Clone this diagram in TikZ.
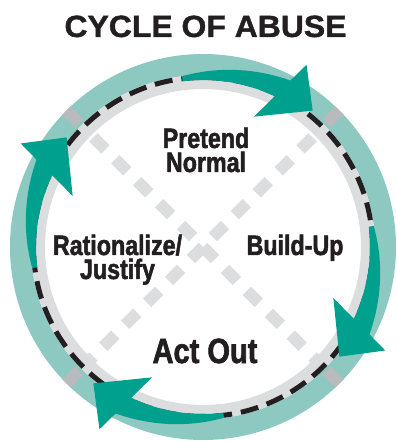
\documentclass[tikz,border=0pt]{standalone}
\usepackage{fontspec}
\setmainfont{Liberation Sans}
\newfontfamily\titlefont[FakeStretch=1.04, BoldFeatures={FakeBold=1.2}]{Liberation Sans}
\newfontfamily\labfont[FakeStretch=0.83, BoldFeatures={FakeBold=1.8}]{Liberation Sans}
\definecolor{lteal}{HTML}{8DC9C0}
\definecolor{dteal}{HTML}{00A08F}
\definecolor{lgray}{HTML}{DCDDDF}
\definecolor{mgray}{HTML}{B9BABD}
\definecolor{ink}{HTML}{231F20}
\tikzset{
  lab/.style={font=\labfont\bfseries\fontsize{28}{24}\selectfont, text=ink, inner sep=0pt, align=center, anchor=north},
  big/.style={font=\labfont\bfseries\fontsize{35}{35}\selectfont, text=ink, inner sep=0pt, anchor=base},
  ttl/.style={font=\titlefont\bfseries\fontsize{30.7}{30}\selectfont, text=ink, inner sep=0pt, anchor=base},
  diag/.style={lgray, line width=12pt, dash pattern=on 17pt off 14pt, dash phase=2pt},
  blkdash/.style={ink, line width=5pt, dash pattern=on 18pt off 9pt},
  arrowfill/.style={fill=dteal}
}
\begin{document}
\begin{tikzpicture}[x=1pt,y=1pt]
\useasboundingbox (-203,-194) rectangle (193,247);
\fill[white] (-203,-194) rectangle (193,247);
% rings
\fill[lteal, even odd rule] (0,0) circle[radius=193] (0,0) circle[radius=172];
\fill[lgray, even odd rule] (0,0) circle[radius=172] (0,0) circle[radius=158];
% diagonals
\draw[diag] (225:170) -- (45:170);
\draw[diag] (315:170) -- (135:170);
% darker squares on the teal band
\foreach \a in {45,135,225,315}
  \fill[mgray, rotate=\a] (175,-6) rectangle (193,6);
% black dashed circle
\draw[blkdash] (0,0) circle[radius=169.5];
% arrows
\foreach \k in {0,1,2,3}{
  \begin{scope}[rotate=-90*\k]
  \fill[arrowfill] (97:167) -- (97:172)
     -- plot[domain=97:62.3, samples=30] (\x:{172+(97-\x)*16/34.7})
     -- (60.4:209.6) -- (51.2:175) -- (68.6:140) -- (64.6:167)
     arc[start angle=64.6, end angle=97, radius=167] -- cycle;
  \end{scope}
}
% texts
\node[ttl] (title) at (2.5,210) {CYCLE OF ABUSE};
\node[lab] (pretend) at (3,119.5) {Pretend\\Normal};
\node[lab] (rational) at (-85.5,12.5) {Rationalize/\\Justify};
\node[lab] (buildup) at (92,12.5) {Build-Up};
\node[big] (actout) at (2,-116) {Act Out};
\end{tikzpicture}
\end{document}
